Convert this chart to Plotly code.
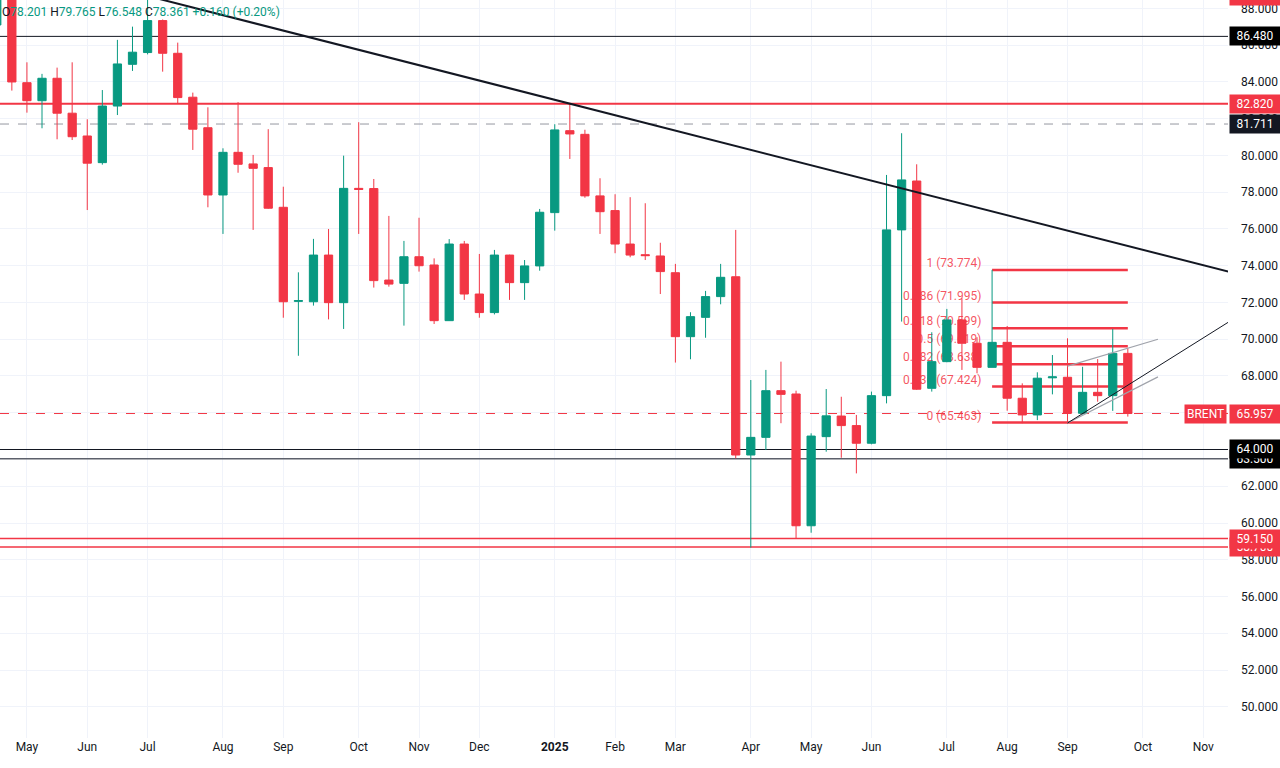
import pandas as pd
import plotly.graph_objects as go

GREEN = "#089981"
RED = "#F23645"
DARK = "#131722"

# weekly BRENT candles, Apr 22 2024 .. Sep 29 2025
dates = pd.date_range("2024-04-22", periods=76, freq="W-MON")
opens = [87.10, 88.90, 83.96, 82.98, 84.20, 82.30, 81.06, 79.61, 82.69, 84.96,
         85.60, 87.34, 85.56, 83.17, 81.51, 77.85, 80.17, 79.54, 79.34, 77.18,
         72.06, 72.04, 74.58, 71.99, 78.21, 78.20, 73.22, 73.04, 74.49, 74.04,
         71.01, 75.18, 72.46, 71.45, 74.58, 73.08, 73.99, 76.89, 81.35, 81.15,
         77.80, 77.00, 75.18, 74.60, 74.53, 73.62, 70.14, 71.19, 72.32, 73.40,
         63.70, 64.66, 67.20, 67.02, 59.85, 64.70, 65.82, 65.30, 64.34, 66.93,
         75.95, 78.61, 67.33, 68.78, 71.05, 69.78, 68.47, 69.83, 66.79, 65.88,
         67.90, 67.93, 65.97, 67.11, 66.93, 69.23]
highs = [89.50, 89.30, 85.07, 84.44, 84.78, 85.07, 81.97, 83.56, 86.29, 87.01,
         88.60, 87.40, 86.14, 83.42, 82.62, 80.39, 82.90, 80.03, 81.43, 78.30,
         73.64, 75.46, 76.00, 79.99, 81.81, 78.72, 76.71, 75.35, 76.61, 74.40,
         75.45, 75.35, 74.64, 74.86, 74.60, 74.31, 77.09, 81.70, 82.84, 81.40,
         78.76, 77.89, 77.73, 77.40, 75.25, 74.10, 71.47, 72.63, 74.10, 75.95,
         67.78, 68.33, 68.78, 67.20, 64.88, 67.29, 66.87, 65.88, 67.15, 78.94,
         81.21, 79.52, 70.38, 71.65, 72.23, 70.11, 73.774, 70.72, 67.60, 68.20,
         69.14, 70.05, 68.50, 68.92, 70.56, 69.50]
lows = [86.50, 83.53, 82.33, 81.48, 80.88, 80.84, 77.03, 79.50, 82.20, 84.60,
        85.50, 84.56, 82.84, 80.30, 77.18, 75.73, 79.06, 75.95, 77.10, 71.17,
        69.10, 71.83, 71.08, 70.56, 75.73, 72.81, 72.86, 70.74, 73.68, 70.83,
        71.00, 72.14, 71.17, 71.35, 72.14, 72.14, 73.73, 75.91, 79.81, 77.70,
        75.73, 74.68, 74.46, 74.31, 72.46, 68.73, 68.91, 70.08, 71.90, 63.52,
        58.66, 63.97, 65.43, 59.17, 59.47, 63.88, 63.55, 62.70, 64.28, 66.51,
        70.96, 67.24, 67.15, 68.75, 68.33, 68.15, 68.47, 66.11, 65.43, 65.60,
        67.00, 65.463, 65.90, 66.60, 66.10, 65.79]
closes = [88.90, 84.00, 82.98, 84.20, 82.30, 81.02, 79.58, 82.69, 84.98, 85.62,
          87.34, 85.56, 83.15, 81.43, 77.85, 80.17, 79.52, 79.30, 77.13, 72.04,
          72.10, 74.58, 71.99, 78.21, 78.15, 73.19, 73.00, 74.49, 74.00, 71.01,
          75.18, 72.46, 71.45, 74.58, 73.08, 73.99, 76.91, 81.39, 81.17, 77.80,
          76.94, 75.18, 74.58, 74.55, 73.68, 70.14, 71.23, 72.32, 73.37, 63.70,
          64.66, 67.20, 67.00, 59.85, 64.73, 65.83, 65.30, 64.34, 66.93, 75.95,
          78.67, 67.28, 68.78, 71.05, 69.78, 68.47, 69.83, 66.79, 65.88, 67.88,
          67.95, 65.97, 67.11, 66.93, 69.23, 65.957]

# x axis month labels (first weekly bar of each month)
tick_dates = ["2024-05-06", "2024-06-03", "2024-07-01", "2024-08-05", "2024-09-02",
              "2024-10-07", "2024-11-04", "2024-12-02", "2025-01-06", "2025-02-03",
              "2025-03-03", "2025-04-07", "2025-05-05", "2025-06-02", "2025-07-07",
              "2025-08-04", "2025-09-01", "2025-10-06", "2025-11-03"]
tick_text = ["May", "Jun", "Jul", "Aug", "Sep", "Oct", "Nov", "Dec", "<b>2025</b>",
             "Feb", "Mar", "Apr", "May", "Jun", "Jul", "Aug", "Sep", "Oct", "Nov"]

# horizontal levels: (price, colour, width, dash)
h_levels = [86.480, 82.820, 81.711, 65.957, 64.000, 63.500, 59.150, 58.700]
h_colors = ["#131722", RED, "#9598A1", RED, "#131722", "#5D606B", RED, RED]
h_widths = [1, 2, 1, 1, 1.2, 1.6, 1.5, 1.5]
h_dash = ["solid", "solid", "dash", "dash", "solid", "solid", "solid", "solid"]

# labels on the price scale (drawn in this order)
tag_prices = [86.480, 82.820, 81.711, 65.957, 63.500, 64.000, 58.700, 59.150]
tag_colors = ["#000000", RED, DARK, RED, "#000000", "#000000", RED, RED]

# fibonacci retracement
fib_start, fib_end = "2025-07-28", "2025-09-29"
fib_ratios = ["1", "0.786", "0.618", "0.5", "0.382", "0.236", "0"]
fib_prices = [73.774, 71.995, 70.599, 69.619, 68.638, 67.424, 65.463]

# trend lines (date, price) pairs
trend_main = [("2024-07-01", 88.68), ("2025-11-17", 73.61)]
channel_up = [("2025-09-01", 68.54), ("2025-10-13", 70.00)]
channel_low = [("2025-09-01", 65.44), ("2025-10-13", 67.95)]
rise_line = [("2025-09-01", 65.44), ("2025-11-17", 71.10)]

x0 = pd.Timestamp("2024-05-06") - pd.Timedelta(days=12.5)
x1 = pd.Timestamp("2024-05-06") + pd.Timedelta(days=557.5)
yr = [48.30, 88.46]

fig = go.Figure()

# horizontal levels as line traces under the candles
for p, c, w, d in zip(h_levels, h_colors, h_widths, h_dash):
    fig.add_trace(go.Scatter(x=[x0, x1], y=[p, p], mode="lines",
                             line=dict(color=c, width=w, dash=d),
                             hoverinfo="skip", showlegend=False, yaxis="y"))

fig.add_trace(go.Scatter(
    x=[pd.Timestamp(fib_start) - pd.Timedelta(days=5)] * len(fib_prices),
    y=fib_prices, mode="text",
    text=[f"{r} ({p:.3f})" for r, p in zip(fib_ratios, fib_prices)],
    textposition="top left",
    textfont=dict(color="rgba(242,54,69,0.85)", size=12, family="Roboto"),
    hoverinfo="skip", showlegend=False, yaxis="y"))

fig.add_trace(go.Candlestick(
    x=dates, open=opens, high=highs, low=lows, close=closes,
    increasing=dict(line=dict(color=GREEN, width=1), fillcolor=GREEN),
    decreasing=dict(line=dict(color=RED, width=1), fillcolor=RED),
    hoverinfo="skip", showlegend=False, yaxis="y2"))

shapes = []
for p in fib_prices:
    shapes.append(dict(type="line", xref="x", x0=fib_start, x1=fib_end, yref="y",
                       y0=p, y1=p, line=dict(color=RED, width=2.5), layer="between"))
for pts, col, w in [(trend_main, "#131722", 2), (channel_up, "#A0A3AB", 1.2),
                    (channel_low, "#A0A3AB", 1.2), (rise_line, "#131722", 1)]:
    shapes.append(dict(type="line", xref="x", yref="y", x0=pts[0][0], y0=pts[0][1],
                       x1=pts[1][0], y1=pts[1][1], line=dict(color=col, width=w),
                       layer="above"))

annotations = []
for p, c in zip(tag_prices, tag_colors):
    annotations.append(dict(xref="paper", x=1, xanchor="left", xshift=1, yref="y", y=p,
                            text=f"{p:.3f}", showarrow=False, bgcolor=c, width=46,
                            borderpad=2, font=dict(color="white", size=12, family="Roboto")))
annotations.append(dict(xref="paper", x=1, xanchor="right", xshift=-1, yref="y", y=65.957,
                        text="BRENT", showarrow=False, bgcolor=RED, borderpad=2,
                        font=dict(color="white", size=12, family="Roboto")))
annotations.append(dict(xref="paper", x=1, xanchor="left", xshift=1, yref="paper", y=1,
                        yanchor="bottom", yshift=-6, text="88.760", showarrow=False,
                        bgcolor=RED, width=46, borderpad=2,
                        font=dict(color="white", size=12, family="Roboto")))
g = f"color:{GREEN}"
legend = (f"O<span style='{g}'>78.201</span> H<span style='{g}'>79.765</span> "
          f"L<span style='{g}'>76.548</span> C<span style='{g}'>78.361</span> "
          f"<span style='{g}'>+0.160 (+0.20%)</span>")
annotations.append(dict(xref="paper", yref="paper", x=0, y=1, xanchor="left", yanchor="top",
                        xshift=0, yshift=-3, text=legend, showarrow=False,
                        font=dict(color="#131722", size=12, family="Roboto")))

fig.update_layout(
    width=1280, height=768,
    margin=dict(l=0, r=52, t=0, b=30),
    plot_bgcolor="white", paper_bgcolor="white",
    boxgap=0.22,
    shapes=shapes, annotations=annotations,
    font=dict(family="Roboto", color="#131722", size=12),
    xaxis=dict(range=[x0, x1], type="date", rangeslider=dict(visible=False),
               tickvals=tick_dates, ticktext=tick_text, showgrid=True,
               gridcolor="#F0F3FA", zeroline=False, showline=False, ticks="",
               automargin=False, tickfont=dict(size=12, color="#131722")),
    yaxis=dict(range=yr, side="right", tick0=50, dtick=2, tickformat=".3f",
               showgrid=True, gridcolor="#F0F3FA", zeroline=False, ticks="",
               ticklabelstandoff=12, automargin=False,
               tickfont=dict(size=12, color="#131722")),
    yaxis2=dict(range=yr, overlaying="y", side="right", visible=False),
    hovermode=False,
)

fig.write_html("out.html", config={"displayModeBar": False},
               post_script="document.body.style.margin='0';")
